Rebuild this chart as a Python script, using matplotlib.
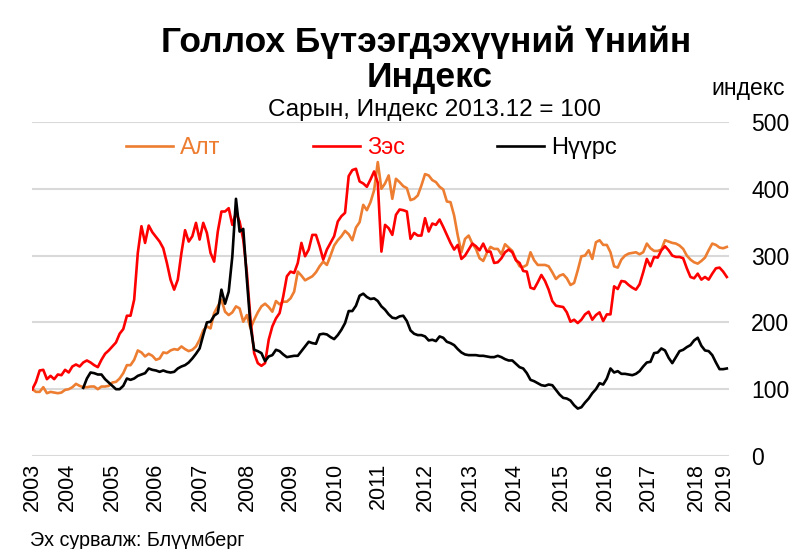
import numpy as np
import matplotlib
matplotlib.use("Agg")
import matplotlib.pyplot as plt

plt.rcParams['font.family'] = ['Liberation Sans', 'DejaVu Sans']

# ---- data (monthly index, 2013.12 = 100) ----
gold = [100, 96, 96, 103, 94, 96, 95, 94, 95, 99,
        100, 103, 108, 105, 103, 103, 104, 104, 100, 104,
        104, 105, 110, 111, 116, 124, 136, 136, 144, 158,
        155, 149, 153, 150, 144, 146, 155, 154, 158, 160,
        159, 164, 160, 157, 159, 164, 174, 188, 194, 191,
        214, 224, 234, 216, 211, 215, 224, 221, 201, 211,
        191, 204, 215, 224, 228, 223, 216, 232, 227, 231,
        231, 236, 246, 276, 270, 263, 266, 269, 275, 284,
        291, 286, 300, 315, 323, 329, 337, 332, 323, 342,
        350, 376, 368, 380, 398, 440, 400, 408, 420, 385,
        415, 410, 404, 401, 383, 385, 390, 405, 422, 420,
        413, 410, 403, 399, 381, 380, 360, 330, 305, 325,
        330, 318, 310, 296, 292, 304, 313, 310, 310, 302,
        317, 312, 307, 294, 284, 283, 286, 305, 293, 286,
        286, 286, 284, 275, 265, 270, 272, 266, 256, 259,
        278, 299, 300, 308, 295, 320, 323, 316, 316, 305,
        284, 282, 294, 300, 303, 304, 305, 302, 305, 318,
        311, 307, 307, 309, 323, 321, 319, 318, 315, 310,
        300, 294, 290, 288, 292, 297, 308, 318, 316, 312,
        311, 313]

copper = [100, 111, 128, 129, 115, 120, 115, 122, 121, 129,
          125, 134, 137, 134, 140, 143, 140, 136, 133, 144,
          153, 158, 164, 170, 183, 190, 210, 210, 234, 304,
          344, 319, 345, 335, 328, 321, 311, 289, 264, 249,
          264, 304, 338, 321, 329, 349, 324, 349, 334, 304,
          291, 336, 366, 366, 371, 346, 364, 351, 324, 274,
          204, 154, 139, 135, 139, 174, 194, 206, 214, 239,
          269, 276, 274, 289, 319, 299, 309, 331, 331, 314,
          294, 309, 319, 329, 351, 359, 364, 419, 428, 430,
          411, 408, 403, 414, 426, 409, 306, 346, 341, 331,
          361, 369, 368, 366, 325, 334, 330, 330, 356, 336,
          348, 346, 354, 343, 331, 319, 309, 316, 295, 300,
          309, 318, 314, 308, 318, 306, 306, 289, 290, 296,
          305, 309, 305, 293, 289, 277, 276, 252, 250, 260,
          271, 262, 249, 232, 225, 224, 223, 215, 201, 204,
          199, 204, 212, 216, 204, 211, 215, 202, 212, 212,
          254, 250, 262, 261, 256, 252, 249, 257, 275, 295,
          284, 298, 297, 308, 314, 308, 300, 298, 298, 296,
          281, 268, 266, 273, 264, 268, 264, 273, 281, 282,
          276, 268]

nan = float('nan')
coal = [nan, nan, nan, nan, nan, nan, nan, nan, nan, nan,
        nan, nan, nan, nan, 102, 116, 125, 124, 122, 122,
        115, 110, 105, 100, 100, 105, 116, 114, 116, 120,
        122, 124, 131, 129, 128, 126, 128, 126, 125, 126,
        131, 134, 136, 140, 146, 153, 161, 181, 200, 201,
        210, 214, 249, 228, 246, 299, 385, 336, 340, 264,
        194, 159, 157, 154, 142, 149, 151, 159, 157, 152,
        148, 149, 150, 150, 157, 164, 171, 169, 168, 182,
        183, 182, 178, 175, 181, 189, 199, 217, 217, 225,
        240, 243, 238, 235, 236, 232, 224, 219, 212, 207,
        206, 209, 210, 202, 188, 183, 181, 181, 179, 173,
        174, 172, 179, 177, 171, 169, 166, 160, 155, 152,
        151, 151, 151, 150, 150, 149, 148, 148, 150, 148,
        145, 143, 143, 138, 133, 131, 124, 114, 112, 109,
        106, 105, 107, 106, 99, 92, 87, 86, 83, 76,
        71, 73, 80, 86, 94, 100, 109, 107, 116, 131,
        125, 127, 123, 123, 122, 121, 123, 127, 134, 140,
        141, 154, 155, 161, 158, 147, 139, 148, 157, 159,
        163, 166, 173, 177, 165, 158, 157, 151, 140, 130,
        130, 131]

series_names = ['Алт', 'Зэс', 'Нүүрс']
year_labels = [str(y) for y in range(2003, 2020)]
y_ticks = [0, 100, 200, 300, 400, 500]

# layout: positions of the year labels along the month index
tick_pos = [0, 9.6, 22, 33.8, 46.2, 59.1, 70.9, 83.3, 95.1, 108,
            120.4, 132.7, 145.6, 157.5, 169.3, 182.7, 190.4]

W, H = 794, 549
fig = plt.figure(figsize=(W / 100, H / 100), dpi=100)
ax = fig.add_axes([32 / W, (H - 456) / H, 697 / W, 334 / H])

x = np.arange(len(gold))
colors = ['#ED7D31', '#FF0000', '#000000']
for vals, name, c in zip([gold, copper, coal], series_names, colors):
    ax.plot(x, vals, color=c, lw=1.9, label=name, solid_joinstyle='round')

ax.set_xlim(-0.1, 191.6)
ax.set_ylim(0, 500)
ax.set_yticks(y_ticks)
ax.yaxis.tick_right()
ax.tick_params(axis='y', length=0, pad=16, labelsize=16.5)
ax.set_xticks(tick_pos)
ax.set_xticklabels(year_labels, rotation=90, fontsize=15.5)
ax.tick_params(axis='x', length=0, pad=5)
ax.grid(axis='y', color='#d9d9d9', lw=1.5)
ax.set_axisbelow(True)
for s in ax.spines.values():
    s.set_visible(False)

leg = ax.legend(loc='center left', bbox_to_anchor=(126 / W, 1 - 148 / H),
                bbox_transform=fig.transFigure, ncol=3, frameon=False,
                fontsize=17, handlelength=2.0, handletextpad=0.3,
                columnspacing=3.9, borderpad=0, borderaxespad=0,
                labelcolor='linecolor')

fig.text(426 / W, 1 - 42 / H, 'Голлох Бүтээгдэхүүний Үнийн', ha='center', va='center',
         fontsize=25.5, fontweight='bold')
fig.text(430 / W, 1 - 78 / H, 'Индекс', ha='center', va='center',
         fontsize=25.5, fontweight='bold')
fig.text(434 / W, 1 - 110 / H, 'Сарын, Индекс 2013.12 = 100', ha='center', va='center',
         fontsize=17.5)
fig.text(748 / W, 1 - 88 / H, 'индекс', ha='center', va='center', fontsize=16.5)
fig.text(30 / W, 1 - 540 / H, 'Эх сурвалж: Блүүмберг', ha='left', va='center',
         fontsize=14.2)

fig.savefig('out.png', dpi=100)
